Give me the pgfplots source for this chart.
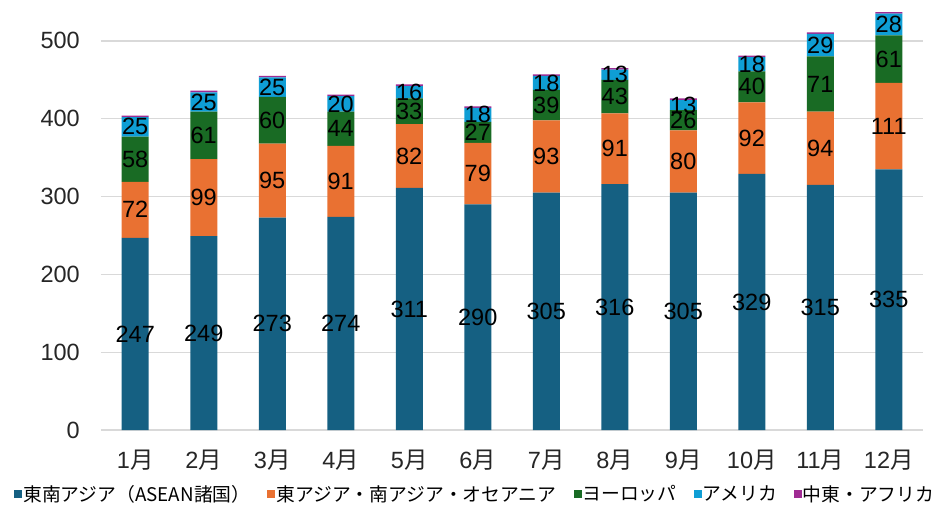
\documentclass[border=0pt]{standalone}
\usepackage{pgfplots}
\pgfplotsset{compat=1.18}
\usepackage{pgfplotstable}
\usepackage{fontspec}
\setmainfont{Liberation Sans}
\newfontfamily\cjk{Noto Sans CJK JP}

\definecolor{cSEA}{HTML}{156082}
\definecolor{cEA}{HTML}{E97132}
\definecolor{cEU}{HTML}{196B24}
\definecolor{cAM}{HTML}{0F9ED5}
\definecolor{cME}{HTML}{A02B93}
\definecolor{gridgrey}{HTML}{D9D9D9}

% monthly counts by region
\pgfplotstableread{
m sea ea  eu am me
0  247 72  58 25 2
1  249 99  61 25 2
2  273 95  60 25 2
3  274 91  44 20 2
4  311 82  33 16 2
5  290 79  27 18 2
6  305 93  39 18 2
7  316 91  43 13 2
8  305 80  26 13 2
9  329 92  40 18 2
10 315 94  71 29 2
11 335 111 61 28 2
}\data

\newcommand{\mon}[1]{#1{\cjk 月}}

\pgfplotsset{
  sq/.style={legend image code/.code={\fill[##1] (0bp,-4bp) rectangle (8bp,4bp);}},
  lab/.style={nodes near coords},
}

\begin{document}
\begin{tikzpicture}
\begin{axis}[
  scale only axis, width=822bp, height=428bp,
  ybar stacked, bar width=27bp,
  xmin=-0.5, xmax=11.5, ymin=0, ymax=550,
  xtick={0,...,11},
  xticklabels={\mon1,\mon2,\mon3,\mon4,\mon5,\mon6,\mon7,\mon8,\mon9,\mon{10},\mon{11},\mon{12}},
  ytick={0,100,...,500},
  axis x line*=bottom, axis y line*=left,
  y axis line style={draw=none},
  x axis line style={draw=gridgrey, line width=1.3bp},
  ymajorgrids, grid style={draw=gridgrey, line width=1.3bp},
  major tick length=0pt,
  tick label style={font=\fontsize{23.5bp}{28bp}\selectfont, text=black!85},
  yticklabel style={inner sep=0pt, xshift=-21bp},
  xticklabel style={inner sep=0pt, yshift=-20bp},
  /pgf/number format/assume math mode=true,
  point meta=rawy,
  % labels sit in the middle of each segment
  every node near coord/.append style={anchor=center,
    font=\fontsize{23.5bp}{28bp}\selectfont, text=black},
  legend columns=5,
  legend style={draw=none, fill=none, at={(-0.1058,-0.1495)}, anchor=west,
    inner sep=0pt, font=\cjk\fontsize{18.8bp}{22bp}\selectfont,
    nodes={inner sep=1bp},
    /tikz/every even column/.append style={column sep=16bp}},
]
\addplot[fill=cSEA, draw=none, sq, lab] table[x=m, y=sea] {\data};
\addplot[fill=cEA,  draw=none, sq, lab] table[x=m, y=ea]  {\data};
\addplot[fill=cEU,  draw=none, sq, lab] table[x=m, y=eu]  {\data};
\addplot[fill=cAM,  draw=none, sq, lab] table[x=m, y=am]  {\data};
\addplot[fill=cME,  draw=none, sq]      table[x=m, y=me]  {\data};
\legend{東南アジア（ASEAN諸国）, 東アジア・南アジア・オセアニア, ヨーロッパ, アメリカ, 中東・アフリカ}
\coordinate (bl) at (rel axis cs:0,0);
\coordinate (tr) at (rel axis cs:1,1);
\end{axis}
\pgfresetboundingbox
\path ([shift={(-101bp,-77bp)}]bl) rectangle ([shift={(23bp,2bp)}]tr);
\end{tikzpicture}
\end{document}
